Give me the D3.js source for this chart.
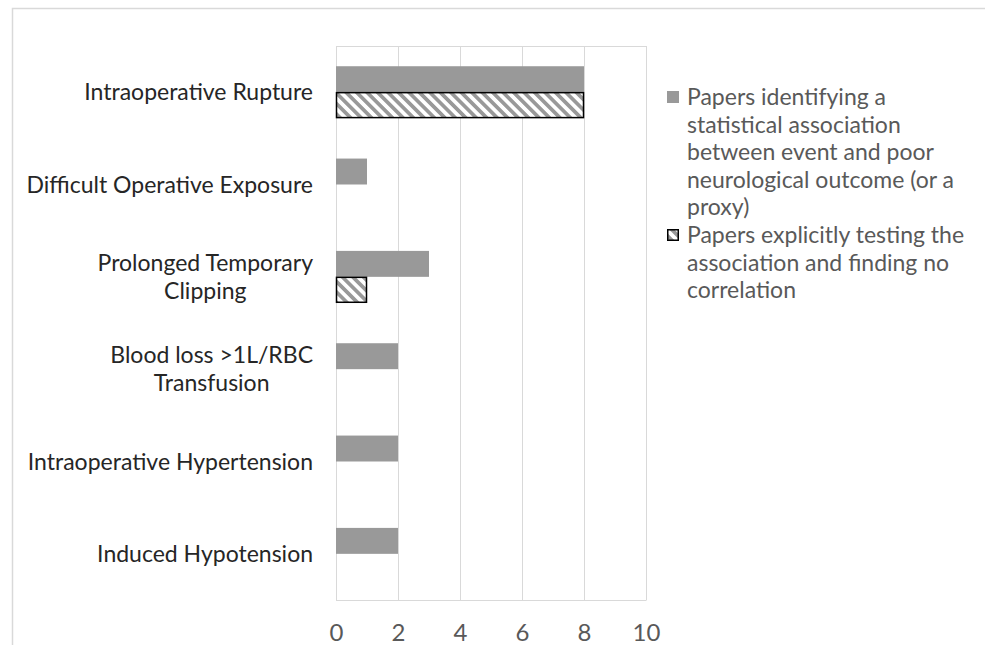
<!DOCTYPE html>
<html>
<head>
<meta charset="utf-8">
<script src="https://cdn.jsdelivr.net/npm/d3@7/dist/d3.min.js"></script>
<style>
  html, body { margin: 0; padding: 0; background: #fff; }
  svg { display: block; }
  text { font-family: Lato, "Open Sans", sans-serif; }
</style>
</head>
<body>
<svg id="chart" width="985" height="645"></svg>
<script>
// ---- data ----
const categories = [
  "Intraoperative Rupture",
  "Difficult Operative Exposure",
  "Prolonged Temporary\nClipping",
  "Blood loss >1L/RBC\nTransfusion",
  "Intraoperative Hypertension",
  "Induced Hypotension"
];
const seriesNames = [
  "Papers identifying a statistical association between event and poor neurological outcome (or a proxy)",
  "Papers explicitly testing the association and finding no correlation"
];
const legendLines = [
  ["Papers identifying a", "statistical association", "between event and poor", "neurological outcome (or a", "proxy)"],
  ["Papers explicitly testing the", "association and finding no", "correlation"]
];
const associationValues = [8, 1, 3, 2, 2, 2];
const noCorrelationValues = [8, 0, 1, 0, 0, 0];
const xTicks = [0, 2, 4, 6, 8, 10];

// ---- layout ----
const svg = d3.select("#chart");
const plot = { left: 336, right: 646, top: 46, bottom: 600 };
const gridColor = "#d9d9d9";

// outer frame (top + left visible)
svg.append("path")
  .attr("d", "M12.5,645 L12.5,8.5 L985,8.5")
  .attr("fill", "none").attr("stroke", gridColor).attr("stroke-width", 1.5);

const defs = svg.append("defs");
const P = 7.4;
const pat = defs.append("pattern")
  .attr("id", "hatch").attr("patternUnits", "userSpaceOnUse")
  .attr("width", P).attr("height", P)
  .attr("patternTransform", "rotate(-45)");
pat.append("rect").attr("width", P).attr("height", P).attr("fill", "#fff");
pat.append("rect").attr("width", P / 2).attr("height", P).attr("fill", "#999999");

const x = d3.scaleLinear().domain([0, 10]).range([plot.left, plot.right]);
const y = d3.scaleBand().domain(categories).range([plot.top, plot.bottom]).paddingInner(0).paddingOuter(0);
const inner = d3.scaleBand().domain([0, 1]).range([0, y.bandwidth()]).paddingInner(0).paddingOuter(0.78);

// grid lines
svg.append("g").selectAll("line").data(xTicks).join("line")
  .attr("x1", d => x(d) + 0.5).attr("x2", d => x(d) + 0.5)
  .attr("y1", plot.top).attr("y2", plot.bottom)
  .attr("stroke", gridColor).attr("stroke-width", 1);
// plot area border top / bottom
svg.append("line").attr("x1", plot.left).attr("x2", plot.right + 0.5)
  .attr("y1", plot.top + 0.5).attr("y2", plot.top + 0.5).attr("stroke", gridColor);
svg.append("line").attr("x1", plot.left).attr("x2", plot.right + 0.5)
  .attr("y1", plot.bottom + 0.5).attr("y2", plot.bottom + 0.5).attr("stroke", gridColor);

// bars
svg.append("g").selectAll("rect").data(categories).join("rect")
  .attr("x", x(0))
  .attr("y", d => y(d) + inner(0))
  .attr("width", (d, i) => x(associationValues[i]) - x(0))
  .attr("height", inner.bandwidth())
  .attr("fill", "#999999");

svg.append("g").selectAll("rect").data(categories.filter((d, i) => noCorrelationValues[i] > 0)).join("rect")
  .attr("x", x(0) + 0.5)
  .attr("y", d => y(d) + inner(1) + 0.5)
  .attr("width", d => x(noCorrelationValues[categories.indexOf(d)]) - x(0) - 1)
  .attr("height", inner.bandwidth() - 1)
  .attr("fill", "url(#hatch)")
  .attr("stroke", "#000").attr("stroke-width", 1.5);

// x axis labels
const xAxis = d3.axisBottom(x).tickValues(xTicks).tickSize(0).tickPadding(0).tickFormat(d3.format("d"));
const gx = svg.append("g").attr("transform", `translate(0, ${plot.bottom})`).call(xAxis);
gx.select(".domain").remove();
gx.selectAll("text").attr("y", 0).attr("dy", null)
  .attr("transform", "translate(0,41)")
  .attr("font-size", 24).attr("fill", "#595959")
  .attr("font-family", "Lato, sans-serif");

// category labels
const labelRight = 313;
const lineH = 28;
categories.forEach(c => {
  const lines = c.split("\n");
  const g = svg.append("g");
  const cy = y(c) + y.bandwidth() / 2;
  const t = g.append("text").attr("font-size", 23).attr("fill", "#262626").attr("text-anchor", "middle");
  lines.forEach((l, i) => {
    t.append("tspan").attr("x", 0)
      .attr("y", cy + 8 + (i - (lines.length - 1) / 2) * lineH)
      .text(l);
  });
  let maxW = 0;
  t.selectAll("tspan").each(function() { maxW = Math.max(maxW, this.getComputedTextLength()); });
  g.attr("transform", `translate(${labelRight - maxW / 2}, 0)`);
});

// legend
const legX = 667, legTextX = 687, legLineH = 27.6;
let ly = 105;
legendLines.forEach((lines, si) => {
  if (si === 0) {
    svg.append("rect").attr("x", legX).attr("y", ly - 14).attr("width", 12).attr("height", 12).attr("fill", "#999999");
  } else {
    svg.append("rect").attr("x", legX + 0.75).attr("y", ly - 13.25).attr("width", 10.5).attr("height", 10.5)
      .attr("fill", "url(#hatch)").attr("stroke", "#000").attr("stroke-width", 1.5);
  }
  const t = svg.append("text").attr("font-size", 23).attr("fill", "#595959");
  lines.forEach((l, i) => {
    t.append("tspan").attr("x", legTextX).attr("y", ly + i * legLineH).text(l);
  });
  ly += lines.length * legLineH;
});
</script>
</body>
</html>
